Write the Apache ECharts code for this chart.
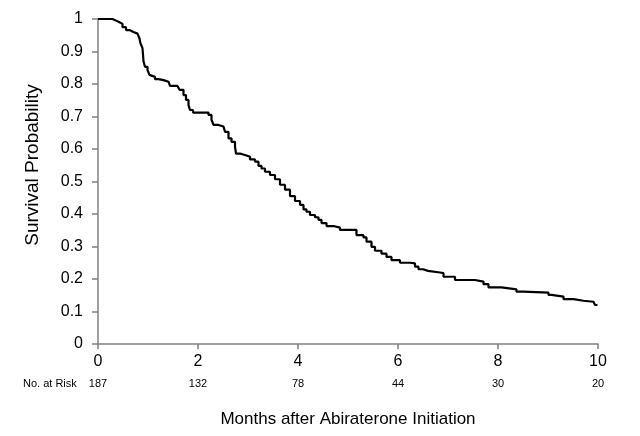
<!DOCTYPE html>
<html>
<head>
<meta charset="utf-8">
<script src="https://cdn.jsdelivr.net/npm/echarts@6/dist/echarts.min.js"></script>
<style>html,body{margin:0;padding:0;background:#fff}#c{width:640px;height:436px}</style>
</head>
<body>
<div id="c"></div>
<script>
// Kaplan-Meier step points: time (months) and survival probability after each step
var times = [0,0.29,0.36,0.43,0.49,0.56,0.63,0.71,0.79,0.83,0.85,0.89,0.91,0.94,0.99,1.03,1.07,1.14,1.21,1.31,1.41,1.44,1.59,1.63,1.71,1.76,1.81,1.84,1.90,2.21,2.27,2.31,2.41,2.51,2.54,2.61,2.67,2.74,2.76,2.84,2.97,3.04,3.14,3.21,3.27,3.34,3.44,3.54,3.64,3.74,3.84,3.94,4.04,4.11,4.17,4.24,4.34,4.41,4.47,4.57,4.71,4.84,5.17,5.31,5.37,5.47,5.54,5.67,5.77,5.87,6.04,6.24,6.34,6.41,6.5,6.6,6.84,6.91,7.14,7.54,7.71,7.81,8.07,8.37,8.51,9.01,9.07,9.31,9.51,9.71,9.91,9.94,9.99];
var survival = [1,0.995,0.99,0.985,0.975,0.966,0.96,0.955,0.95,0.94,0.925,0.91,0.87,0.853,0.843,0.828,0.822,0.815,0.812,0.807,0.802,0.794,0.79,0.782,0.766,0.751,0.735,0.72,0.712,0.705,0.69,0.674,0.669,0.664,0.653,0.633,0.622,0.607,0.586,0.58,0.576,0.568,0.561,0.548,0.54,0.53,0.52,0.507,0.49,0.475,0.455,0.44,0.428,0.414,0.407,0.397,0.39,0.382,0.372,0.363,0.358,0.351,0.335,0.328,0.315,0.299,0.287,0.278,0.268,0.258,0.25,0.248,0.238,0.23,0.225,0.22,0.218,0.207,0.197,0.192,0.184,0.174,0.168,0.161,0.158,0.151,0.146,0.138,0.133,0.13,0.125,0.12,0.12];
var riskTimes = [0,2,4,6,8,10];
var atRisk = [187,132,78,44,30,20];

var data = times.map(function(t,i){return [t, survival[i]];});
var riskMap = {};
riskTimes.forEach(function(t,i){riskMap[t]=atRisk[i];});

var font = 'Liberation Sans, Arial, sans-serif';
var chart = echarts.init(document.getElementById('c'), null, {renderer:'canvas'});
chart.setOption({
  animation:false,
  backgroundColor:'#fff',
  grid:{left:98,right:42,top:19,bottom:92,containLabel:false},
  xAxis:[{
    type:'value',min:0,max:10,interval:2,
    name:'Months after Abiraterone Initiation',nameLocation:'middle',nameGap:67,
    nameTextStyle:{fontFamily:font,fontSize:17,color:'#000'},
    axisLine:{show:true,lineStyle:{color:'#808080',width:1.5}},
    axisTick:{show:true,length:5,lineStyle:{color:'#808080',width:1.5}},
    axisLabel:{fontFamily:font,fontSize:16,color:'#000',margin:10},
    splitLine:{show:false}
  },{
    type:'value',min:0,max:10,interval:2,position:'bottom',offset:34,
    axisLine:{show:false},axisTick:{show:false},splitLine:{show:false},
    axisLabel:{fontFamily:font,fontSize:11,color:'#000',margin:0,
      formatter:function(v){return riskMap[v]!==undefined?String(riskMap[v]):'';}}
  }],
  yAxis:{
    type:'value',min:0,max:1,interval:0.1,
    axisLine:{show:true,lineStyle:{color:'#808080',width:1.5}},
    axisTick:{show:true,length:6,lineStyle:{color:'#808080',width:1.5}},
    axisLabel:{fontFamily:font,fontSize:16,color:'#000',margin:15,
      formatter:function(v){return String(Math.round(v*10)/10);}},
    splitLine:{show:false}
  },
  graphic:[
    {type:'text',left:23,top:378,style:{text:'No. at Risk',font:'11px '+font,fill:'#000'}},
    {type:'text',x:33,y:165,rotation:Math.PI/2,
      style:{text:'Survival Probability',font:'19px '+font,fill:'#000',align:'center',verticalAlign:'middle'}}
  ],
  series:[{
    type:'line',step:'end',data:data,symbol:'none',xAxisIndex:0,
    lineStyle:{color:'#000',width:2.2}
  }]
});
</script>
</body>
</html>
